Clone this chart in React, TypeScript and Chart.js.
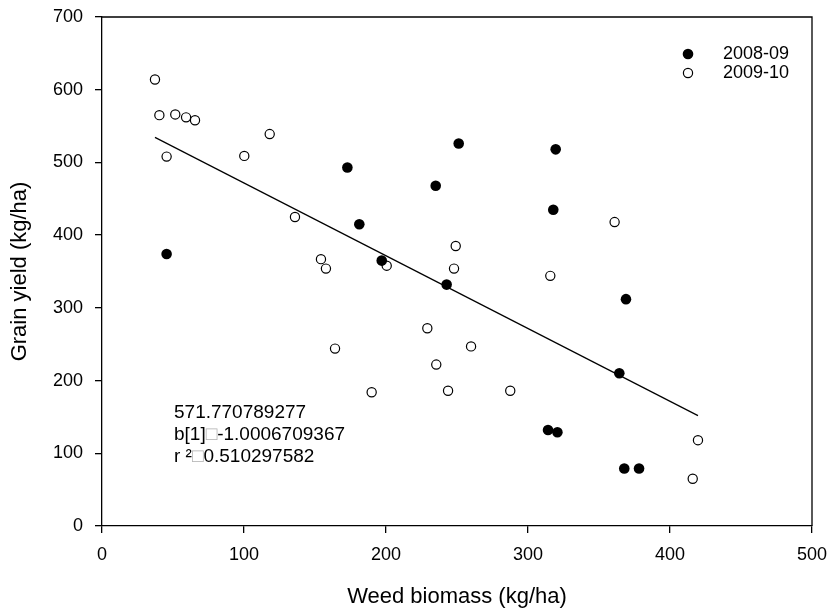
import React, { useEffect, useRef } from "react";
import { Chart, registerables } from "chart.js";

Chart.register(...registerables);

const FONT = '"Liberation Sans", Arial, Helvetica, sans-serif';

// ---- data ----
const seriesNames = ["2008-09", "2009-10"];

const weed0809 = [45.5, 172.8, 181.2, 197.0, 235.0, 242.7, 251.2, 314.1, 317.8, 319.5, 320.7, 364.3, 367.8, 369.0, 378.2];
const yield0809 = [374, 493, 415, 365, 468, 332, 526, 132, 435, 518, 129, 210, 79, 312, 79];

const weed0910 = [37.3, 40.4, 45.5, 51.6, 59.2, 65.5, 100.2, 118.1, 135.9, 154.2, 157.7, 164.1, 189.9, 200.5, 229.1, 235.4, 243.7, 247.9, 249.1, 259.9, 287.5, 315.7, 361.0, 416.0, 419.7];
const yield0910 = [614, 565, 508, 566, 562, 558, 509, 539, 425, 367, 354, 244, 184, 358, 272, 222, 186, 354, 385, 247, 186, 344, 418, 65, 118];

const interceptText = "571.770789277";
const slopeText = "-1.0006709367";
const r2Text = "0.510297582";
const intercept = parseFloat(interceptText);
const slope = parseFloat(slopeText);

const xTickValues = [0, 100, 200, 300, 400, 500];
const yTickValues = [0, 100, 200, 300, 400, 500, 600, 700];

const xTitle = "Weed biomass (kg/ha)";
const yTitle = "Grain yield (kg/ha)";

const annotationLines: string[][] = [
  [interceptText],
  ["b[1]", "\u25A1", slopeText],
  ["r \u00B2", "\u25A1", r2Text],
];

const overlayPlugin = {
  id: "overlay",
  afterDraw(chart: any) {
    const { ctx, chartArea } = chart;
    const { left, right, top, bottom } = chartArea;
    ctx.save();
    // top and right frame
    ctx.strokeStyle = "#000";
    ctx.lineWidth = 1.3;
    ctx.beginPath();
    ctx.moveTo(left, top);
    ctx.lineTo(right, top);
    ctx.lineTo(right, bottom);
    ctx.stroke();

    // legend
    const lx = left + 586;
    const tx = left + 621;
    const rows = [top + 37, top + 56];
    ctx.font = `18px ${FONT}`;
    ctx.textBaseline = "middle";
    ctx.textAlign = "left";
    rows.forEach((ry, i) => {
      ctx.beginPath();
      if (i === 0) {
        ctx.arc(lx, ry, 5.3, 0, Math.PI * 2);
        ctx.fillStyle = "#000";
        ctx.fill();
      } else {
        ctx.arc(lx, ry, 4.6, 0, Math.PI * 2);
        ctx.fillStyle = "#fff";
        ctx.fill();
        ctx.lineWidth = 1.2;
        ctx.stroke();
      }
      ctx.fillStyle = "#000";
      ctx.fillText(seriesNames[i], tx, ry);
    });

    // regression annotation
    ctx.font = `19px ${FONT}`;
    const ax = left + 72;
    annotationLines.forEach((parts, i) => {
      let x = ax;
      const y = top + 396 + i * 22;
      parts.forEach((p) => {
        ctx.fillStyle = p === "\u25A1" ? "#b0b0b0" : "#000";
        ctx.fillText(p, x, y);
        x += ctx.measureText(p).width;
      });
    });
    ctx.restore();
  },
};

export default function App() {
  const canvasRef = useRef<HTMLCanvasElement | null>(null);

  useEffect(() => {
    document.body.style.margin = "0";
    const canvas = canvasRef.current;
    if (!canvas) return;

    const allX = [...weed0809, ...weed0910];
    const xMin = Math.min(...allX);
    const xMax = Math.max(...allX);

    const chart = new Chart(canvas, {
      type: "scatter",
      data: {
        datasets: [
          {
            label: seriesNames[0],
            data: weed0809.map((x, i) => ({ x, y: yield0809[i] })),
            backgroundColor: "#000",
            borderColor: "#000",
            borderWidth: 0,
            pointRadius: 5.3,
          },
          {
            label: seriesNames[1],
            data: weed0910.map((x, i) => ({ x, y: yield0910[i] })),
            backgroundColor: "#fff",
            borderColor: "#000",
            borderWidth: 1.2,
            pointRadius: 4.6,
          },
          {
            type: "line",
            label: "fit",
            data: [
              { x: xMin, y: intercept + slope * xMin },
              { x: xMax, y: intercept + slope * xMax },
            ],
            borderColor: "#000",
            borderWidth: 1.2,
            pointRadius: 0,
            fill: false,
            showLine: true,
          } as any,
        ],
      },
      options: {
        animation: false,
        responsive: true,
        maintainAspectRatio: false,
        layout: { padding: { left: 0, right: 19, top: 17, bottom: 0 } },
        plugins: {
          legend: { display: false },
          tooltip: { enabled: false },
        },
        scales: {
          x: {
            type: "linear",
            min: 0,
            max: 500,
            afterFit: (s: any) => {
              s.height = 83;
              s.paddingLeft = 0;
              s.paddingRight = 0;
            },
            afterBuildTicks: (s: any) => {
              s.ticks = xTickValues.map((v) => ({ value: v }));
            },
            ticks: {
              color: "#000",
              font: { family: FONT, size: 18 },
              padding: 11,
              maxRotation: 0,
            },
            grid: {
              drawOnChartArea: false,
              drawTicks: true,
              tickLength: 7,
              color: "#000",
              lineWidth: 1.3,
            },
            border: { display: true, color: "#000", width: 1.3 },
            title: {
              display: true,
              text: xTitle,
              color: "#000",
              font: { family: FONT, size: 22, lineHeight: 1 },
              padding: { top: 0, bottom: 1 },
            },
          },
          y: {
            type: "linear",
            min: 0,
            max: 700,
            afterFit: (s: any) => {
              s.width = 102;
              s.paddingTop = 0;
              s.paddingBottom = 0;
            },
            afterBuildTicks: (s: any) => {
              s.ticks = yTickValues.map((v) => ({ value: v }));
            },
            ticks: {
              color: "#000",
              font: { family: FONT, size: 18 },
              padding: 12,
            },
            grid: {
              drawOnChartArea: false,
              drawTicks: true,
              tickLength: 7,
              color: "#000",
              lineWidth: 1.3,
            },
            border: { display: true, color: "#000", width: 1.3 },
            title: {
              display: true,
              text: yTitle,
              color: "#000",
              font: { family: FONT, size: 22, lineHeight: 1 },
              padding: { top: 9, bottom: 0 },
            },
          },
        },
      } as any,
      plugins: [overlayPlugin],
    });

    return () => chart.destroy();
  }, []);

  return (
    <div style={{ width: 831, height: 609, position: "relative" }}>
      <canvas ref={canvasRef} />
    </div>
  );
}
